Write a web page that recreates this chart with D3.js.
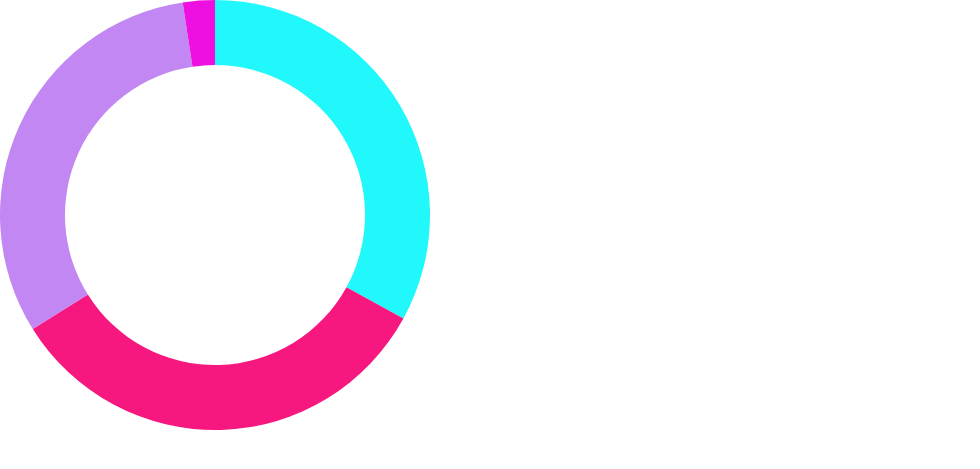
<!DOCTYPE html>
<html>
<head>
<meta charset="utf-8">
<script src="https://cdn.jsdelivr.net/npm/d3@7"></script>
<style>
  html, body { margin: 0; padding: 0; background: #fff; }
</style>
</head>
<body>
<div id="chart"></div>
<script>
// slice data (share of the full circle, in %)
const categories = ["A", "B", "C", "D"];
const values = [33.0, 33.1, 31.5, 2.4];
const colors = ["#21f8fc", "#f6187e", "#c287f3", "#ee10e0"];

const width = 980;
const height = 469;
const outerRadius = 215;
const innerRadius = 150;
const cx = 215;
const cy = 215;

const data = categories.map((c, i) => ({ category: c, value: values[i] }));

// keep input order, clockwise from 12 o'clock
const pie = d3.pie()
    .sort(null)
    .value(d => d.value);

const arc = d3.arc()
    .innerRadius(innerRadius)
    .outerRadius(outerRadius);

const color = d3.scaleOrdinal()
    .domain(categories)
    .range(colors);

const svg = d3.create("svg")
    .attr("width", width)
    .attr("height", height)
    .attr("viewBox", [0, 0, width, height]);

svg.append("g")
    .attr("transform", `translate(${cx},${cy})`)
    .selectAll("path")
    .data(pie(data))
    .join("path")
    .attr("fill", d => color(d.data.category))
    .attr("d", arc);

document.getElementById("chart").appendChild(svg.node());
</script>
</body>
</html>
